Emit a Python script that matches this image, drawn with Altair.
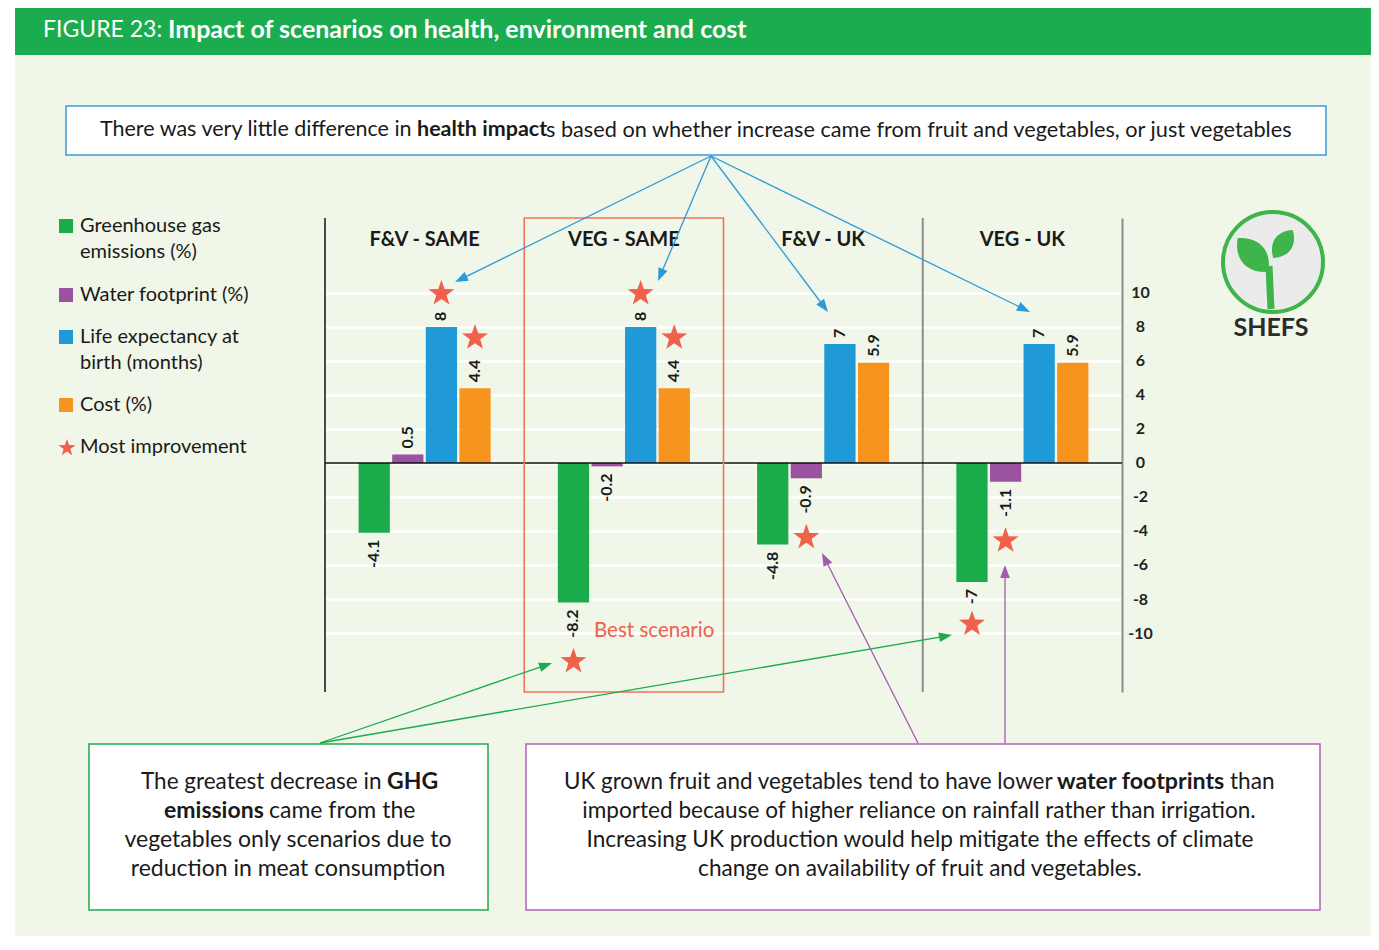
import math
import altair as alt
import pandas as pd

# ---------------- data ----------------
scenarios = ["F&V - SAME", "VEG - SAME", "F&V - UK", "VEG - UK"]
metrics = ["Greenhouse gas emissions (%)", "Water footprint (%)",
           "Life expectancy at birth (months)", "Cost (%)"]
ghg_emissions = [-4.1, -8.2, -4.8, -7.0]
water_footprint = [0.5, -0.2, -0.9, -1.1]
life_expectancy = [8.0, 8.0, 7.0, 7.0]
cost = [4.4, 4.4, 5.9, 5.9]
most_improvement = [
    ("F&V - SAME", "Life expectancy at birth (months)"),
    ("F&V - SAME", "Cost (%)"),
    ("VEG - SAME", "Greenhouse gas emissions (%)"),
    ("VEG - SAME", "Life expectancy at birth (months)"),
    ("VEG - SAME", "Cost (%)"),
    ("F&V - UK", "Water footprint (%)"),
    ("VEG - UK", "Greenhouse gas emissions (%)"),
    ("VEG - UK", "Water footprint (%)"),
]
best_scenario = "VEG - SAME"
y_ticks = [-10, -8, -6, -4, -2, 0, 2, 4, 6, 8, 10]
legend_lines = [["Greenhouse gas", "emissions (%)"], ["Water footprint (%)"],
                ["Life expectancy at", "birth (months)"], ["Cost (%)"]]
star_legend = "Most improvement"
title_prefix = "FIGURE 23: "
title_main = "Impact of scenarios on health, environment and cost"

# ---------------- style ----------------
FONT = "Lato"
BG = "#f0f6e8"
GREEN = "#1aab4b"
PURPLE = "#9b52a0"
BLUE = "#1f9ad6"
ORANGE = "#f7941e"
CORAL = "#f1604a"
colors = [GREEN, PURPLE, BLUE, ORANGE]
DARK = "#1a1a1a"

W, H = 797, 474              # plot area
OX, OY = 325, 218            # plot origin on the page
PAD = {"left": OX - 8, "top": OY - 8, "right": 249, "bottom": 244}
Y_DOMAIN = [-13.47, 14.41]

series = [ghg_emissions, water_footprint, life_expectancy, cost]
rows = []
for si, s in enumerate(scenarios):
    for mi, m in enumerate(metrics):
        v = series[mi][si]
        rows.append({"scenario": s, "metric": m, "value": v,
                     "label": f"{v:g}", "star": (s, m) in most_improvement})
df = pd.DataFrame(rows)
scen_df = pd.DataFrame({"scenario": scenarios})
one = pd.DataFrame({"k": [0]})


def star_path(r_in=0.40):
    pts = []
    for k in range(10):
        a = math.radians(-90 + 36 * k)
        r = 1.0 if k % 2 == 0 else r_in
        pts.append(f"{r * math.cos(a):.4f},{r * math.sin(a):.4f}")
    return "M" + "L".join(pts) + "Z"


STAR = star_path()
TRI = "M0,-1L0.75,1L-0.75,1Z"
LEAF = "M0,1C0.75,0.4 0.75,-0.4 0,-1C-0.75,-0.4 -0.75,0.4 0,1Z"

X_SCALE = alt.Scale(domain=scenarios, paddingInner=0, paddingOuter=0)
X_ENC = alt.X("scenario:N", scale=X_SCALE, axis=None)
XOFF = alt.XOffset("metric:N", scale=alt.Scale(domain=metrics, paddingInner=0.07, paddingOuter=1.0))
Y_SCALE = alt.Scale(domain=Y_DOMAIN, nice=False, zero=False)
Y_AXIS = alt.Axis(orient="right", values=y_ticks, grid=True, gridColor="#ffffff", gridWidth=2.5,
                  ticks=False, tickSize=0, domainColor="#8c8c8c", domainWidth=2,
                  labelFont=FONT, labelFontSize=16, labelFontWeight="bold", labelColor="#222222",
                  labelAlign="center", labelPadding=18, labelExpr="toString(datum.value)", title=None)


def px(x):
    return x - OX


def py(y):
    return y - OY


def rect(x1, y1, x2, y2, **kw):
    return alt.Chart(one).mark_rect(**kw).encode(
        x=alt.value(px(x1)), x2=alt.value(px(x2)), y=alt.value(py(y1)), y2=alt.value(py(y2)))


def line(x1, y1, x2, y2, color, width):
    return alt.Chart(one).mark_rule(color=color, strokeWidth=width).encode(
        x=alt.value(px(x1)), x2=alt.value(px(x2)), y=alt.value(py(y1)), y2=alt.value(py(y2)))


def arrow(x1, y1, x2, y2, color, width=1.3, head=13):
    dx, dy = x2 - x1, y2 - y1
    L = math.hypot(dx, dy)
    ux, uy = dx / L, dy / L
    ang = math.degrees(math.atan2(dx, -dy)) % 360
    cx, cy = x2 - ux * head / 2, y2 - uy * head / 2
    ln = line(x1, y1, x2 - ux * head * 0.6, y2 - uy * head * 0.6, color, width)
    hd = alt.Chart(one).mark_point(shape=TRI, filled=True, size=head * head, angle=ang,
                                   color=color, opacity=1, strokeWidth=0).encode(
        x=alt.value(px(cx)), y=alt.value(py(cy)))
    return [ln, hd]


def text(s, x, y, size, weight="normal", align="left", color=DARK, font=FONT):
    return alt.Chart(one).mark_text(text=s, fontSize=size, fontWeight=weight, align=align,
                                    baseline="middle", color=color, font=font).encode(
        x=alt.value(px(x)), y=alt.value(py(y)))


layers = []

# white strip at left edge of page
layers.append(rect(8, 8, 15, 950, fill="#ffffff"))
# header band
layers.append(rect(15, 8, 1376, 55, fill="#1aac4f"))
layers.append(text(title_prefix, 43, 30, 23, color="#ffffff"))
layers.append(text(title_main, 168, 30, 25, weight="bold", color="#ffffff"))

# top note box
layers.append(rect(66, 106, 1326, 155, fill="#ffffff", stroke="#3a9ad9", strokeWidth=1.5))
layers.append(text("There was very little difference in", 100, 130, 21.5))
layers.append(text("health impact", 417, 130, 21.5, weight="bold"))
layers.append(text("s based on whether increase came from fruit and vegetables, or just vegetables", 546, 130, 21.7))

# bottom note boxes
layers.append(rect(89, 744, 488, 910, fill="#ffffff", stroke=GREEN, strokeWidth=1.5))
layers.append(text("The greatest decrease in", 141, 782, 22.5))
layers.append(text("GHG", 387, 782, 23, weight="bold"))
layers.append(text("emissions", 164, 811, 23, weight="bold"))
layers.append(text("came from the", 269, 811, 23))
layers.append(text("vegetables only scenarios due to", 288, 840, 23, align="center"))
layers.append(text("reduction in meat consumption", 288, 869, 23, align="center"))

layers.append(rect(526, 744, 1320, 910, fill="#ffffff", stroke="#b062b8", strokeWidth=1.5))
layers.append(text("UK grown fruit and vegetables tend to have lower", 564, 782, 22.4))
layers.append(text("water footprints", 1057, 782, 23.2, weight="bold"))
layers.append(text("than", 1230, 782, 22.6))
layers.append(text("imported because of higher reliance on rainfall rather than irrigation.", 919, 811, 22.6, align="center"))
layers.append(text("Increasing UK production would help mitigate the effects of climate", 920, 840, 22.6, align="center"))
layers.append(text("change on availability of fruit and vegetables.", 920, 869, 22.6, align="center"))

# ---------------- plot ----------------
# panel frame lines
layers.append(alt.Chart(scen_df).transform_filter(f"datum.scenario == '{scenarios[0]}'")
              .mark_rule(color="#111111", strokeWidth=1.5)
              .encode(x=alt.X("scenario:N", scale=X_SCALE, axis=None, bandPosition=0),
                      y=alt.value(0), y2=alt.value(H)))
layers.append(alt.Chart(scen_df).transform_filter(f"datum.scenario == '{scenarios[3]}'")
              .mark_rule(color="#8c8c8c", strokeWidth=2)
              .encode(x=alt.X("scenario:N", scale=X_SCALE, axis=None, bandPosition=0),
                      y=alt.value(0), y2=alt.value(H)))

bars = alt.Chart(df).mark_bar().encode(
    x=X_ENC, xOffset=XOFF,
    y=alt.Y("value:Q", scale=Y_SCALE, axis=Y_AXIS),
    color=alt.Color("metric:N", scale=alt.Scale(domain=metrics, range=colors), legend=None),
)
layers.append(bars)

layers.append(alt.Chart(one).mark_rule(color="#111111", strokeWidth=1.5).encode(
    y=alt.Y(datum=0, scale=Y_SCALE, axis=Y_AXIS), x=alt.value(0), x2=alt.value(W)))

# best scenario box
layers.append(alt.Chart(scen_df).transform_filter(f"datum.scenario == '{best_scenario}'")
              .mark_rect(fillOpacity=0, stroke="#f0735e", strokeWidth=1.6)
              .encode(x=X_ENC, y=alt.value(0), y2=alt.value(H)))

lab_common = dict(angle=270, baseline="middle", font=FONT, fontSize=16, fontWeight="bold", color=DARK)
layers.append(alt.Chart(df).transform_filter("datum.value > 0")
              .mark_text(align="left", yOffset=-6, **lab_common)
              .encode(x=X_ENC, xOffset=XOFF, y=alt.Y("value:Q", scale=Y_SCALE, axis=Y_AXIS), text="label:N"))
layers.append(alt.Chart(df).transform_filter("datum.value < 0")
              .mark_text(align="right", yOffset=7, **lab_common)
              .encode(x=X_ENC, xOffset=XOFF, y=alt.Y("value:Q", scale=Y_SCALE, axis=Y_AXIS), text="label:N"))

ppu = H / (Y_DOMAIN[1] - Y_DOMAIN[0])
layers.append(alt.Chart(df).transform_filter("datum.star")
              .transform_calculate(star_y=f"datum.value + (datum.value > 0 ? 1 : -1) * (25 + 8.5 * length(datum.label)) / {ppu:.4f}")
              .mark_point(shape=STAR, filled=True, size=740, color=CORAL, opacity=1, strokeWidth=0)
              .encode(x=X_ENC, xOffset=XOFF, y=alt.Y("star_y:Q", scale=Y_SCALE, axis=Y_AXIS)))

layers.append(alt.Chart(scen_df).mark_text(font=FONT, fontSize=20, fontWeight="bold", color=DARK,
                                           baseline="middle")
              .encode(x=X_ENC, y=alt.value(22), text="scenario:N"))

layers.append(text("Best scenario", 594, 631, 20.5, color="#f0604a"))

# ---------------- arrows ----------------
for tx, ty in [(455, 282), (658, 281), (828, 312), (1030, 312)]:
    layers += arrow(711, 156, tx, ty, "#2a9bd8")
for tx, ty in [(552, 663), (952, 635)]:
    layers += arrow(320, 743, tx, ty, GREEN)
layers += arrow(918, 743, 822, 553, "#a65aaf")
layers += arrow(1005, 743, 1005, 565, "#a65aaf")

# ---------------- legend ----------------
leg_y = [226, 295, 337, 405]
for i, lines in enumerate(legend_lines):
    layers.append(alt.Chart(one).mark_square(size=196, color=colors[i], opacity=1).encode(
        x=alt.value(px(66)), y=alt.value(py(leg_y[i]))))
    for j, t in enumerate(lines):
        layers.append(text(t, 80, leg_y[i] + 26 * j, 20))
layers.append(alt.Chart(one).mark_point(shape=STAR, filled=True, size=320, color=CORAL, opacity=1,
                                        strokeWidth=0).encode(x=alt.value(px(67)), y=alt.value(py(448))))
layers.append(text(star_legend, 80, 447, 20))

# ---------------- logo ----------------
layers.append(alt.Chart(one).mark_point(shape="circle", size=10000, fill="#ebebeb", stroke="#3db54a",
                                        strokeWidth=4, opacity=1).encode(x=alt.value(px(1273)), y=alt.value(py(262))))
layers.append(line(1271, 309, 1269, 266, "#3db54a", 7))
layers.append(alt.Chart(one).mark_point(shape=LEAF, filled=True, size=2100, angle=318, color="#3db54a",
                                        opacity=1, strokeWidth=0).encode(x=alt.value(px(1253)), y=alt.value(py(255))))
layers.append(alt.Chart(one).mark_point(shape=LEAF, filled=True, size=1156, angle=35, color="#3db54a",
                                        opacity=1, strokeWidth=0).encode(x=alt.value(px(1283)), y=alt.value(py(244))))
layers.append(text("SHEFS", 1271, 328, 25, weight="bold", align="center", color="#2b2b2b"))

chart = alt.layer(*layers).properties(
    width=W, height=H,
    autosize=alt.AutoSizeParams(type="none"),
    padding=PAD,
    background=BG,
).configure_view(strokeWidth=0)

chart.save("out.html", embed_options={"renderer": "svg", "actions": False})
